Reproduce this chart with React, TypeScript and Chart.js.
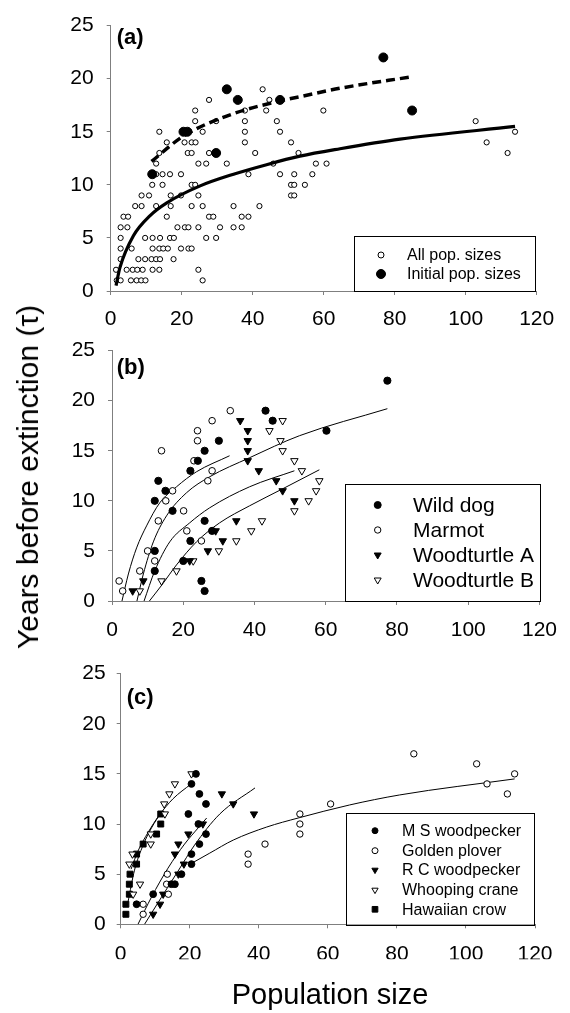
import React, { useEffect, useRef } from 'react';
import { Chart, registerables } from 'chart.js';
Chart.register(...registerables);

const FONT = '"Liberation Sans", Arial, Helvetica, sans-serif';
const AXIS = '#7f7f7f';

const X_TICKS = [0, 20, 40, 60, 80, 100, 120];
const Y_TICKS = [0, 5, 10, 15, 20, 25];

// ---------- Panel (a) ----------
const aAllX = [
  1.7, 2.8, 5.7, 7.3, 8.6, 9.8, 25.9,
  1.5, 4.5, 6.2, 7.5, 9.0, 11.8, 13.7, 24.7,
  2.8, 7.8, 9.7, 11.5, 12.8, 13.9, 17.7,
  2.8, 5.9, 11.8, 13.7, 14.8, 16.1, 19.8, 21.9, 22.8,
  2.8, 9.7, 11.8, 13.9, 16.7, 17.8, 26.9, 29.7,
  2.8, 4.7, 18.8, 20.9, 21.9, 24.7, 30.8, 34.6, 36.9,
  3.6, 4.9, 15.8, 27.7, 28.9, 36.9, 38.8,
  6.9, 8.7, 12.8, 16.9, 22.8, 25.9, 34.6, 41.9,
  8.7, 10.8, 16.9, 19.8, 24.7, 50.8, 51.7,
  11.7, 14.6, 22.8, 23.8, 50.8, 51.7, 54.7,
  12.8, 14.6, 16.7, 19.8, 38.8, 47.7, 51.7, 56.8,
  12.8, 24.7, 26.9, 32.7, 45.8, 57.8, 60.8,
  13.7, 21.7, 22.8, 27.7, 40.7, 52.9, 111.8,
  15.8, 20.8, 22.8, 23.9, 37.8, 50.8, 105.9,
  13.7, 25.9, 37.8, 47.7, 113.9,
  23.8, 29.7, 37.8, 46.8, 102.8,
  23.8, 37.8, 43.8, 59.9,
  27.7, 44.7,
  42.8,
];
const aAllY = [
  1, 1, 1, 1, 1, 1, 1,
  2, 2, 2, 2, 2, 2, 2, 2,
  3, 3, 3, 3, 3, 3, 3,
  4, 4, 4, 4, 4, 4, 4, 4, 4,
  5, 5, 5, 5, 5, 5, 5, 5,
  6, 6, 6, 6, 6, 6, 6, 6, 6,
  7, 7, 7, 7, 7, 7, 7,
  8, 8, 8, 8, 8, 8, 8, 8,
  9, 9, 9, 9, 9, 9, 9,
  10, 10, 10, 10, 10, 10, 10,
  11, 11, 11, 11, 11, 11, 11, 11,
  12, 12, 12, 12, 12, 12, 12,
  13, 13, 13, 13, 13, 13, 13,
  14, 14, 14, 14, 14, 14, 14,
  15, 15, 15, 15, 15,
  16, 16, 16, 16, 16,
  17, 17, 17, 17,
  18, 18,
  19,
];
const aInitX = [11.7, 20.5, 21.6, 29.7, 32.7, 35.8, 47.7, 76.8, 84.9];
const aInitY = [11, 15, 15, 13, 19, 18, 18, 22, 17];
const aAllFitX = [1.5, 2.6, 6.4, 11.1, 15.8, 25.2, 34.6, 43.9, 53.3, 64.6, 81.5, 113.9];
const aAllFitY = [0.5, 2.2, 5.2, 7.1, 8.3, 9.9, 11.0, 11.9, 12.7, 13.4, 14.3, 15.5];
const aInitFitX = [11.5, 20.5, 34.5, 47.7, 53.3, 64.6, 85.2];
const aInitFitY = [12.2, 14.6, 16.7, 17.9, 18.3, 19.1, 20.2];

// ---------- Panel (b) ----------
const bDogX = [26.0, 25.1, 12.0, 20.0, 12.0, 22.0, 28.1, 26.0, 17.0, 12.0, 15.0, 13.0, 22.0, 24.1, 26.0, 30.0, 60.2, 45.1, 43.1, 77.3];
const bDogY = [1, 2, 3, 4, 5, 6, 7, 8, 9, 10, 11, 12, 13, 14, 15, 16, 17, 18, 19, 22];
const bMarmotX = [3.0, 2.0, 7.8, 12.0, 10.0, 25.1, 21.0, 13.0, 20.1, 15.1, 17.0, 26.9, 28.1, 23.0, 13.9, 24.0, 24.0, 28.1, 33.2];
const bMarmotY = [1, 2, 3, 4, 5, 6, 7, 8, 9, 10, 11, 12, 13, 14, 15, 16, 17, 18, 19];
const bTurtleAX = [5.8, 8.8, 21.8, 26.9, 31.1, 29.1, 34.9, 51.2, 47.9, 46.1, 41.2, 38.1, 38.1, 38.1, 38.1, 36.0];
const bTurtleAY = [1, 2, 4, 5, 6, 7, 8, 10, 11, 12, 13, 14, 15, 16, 17, 18];
const bTurtleBX = [7.8, 13.9, 18.1, 22.8, 30.0, 34.9, 39.1, 42.1, 51.2, 55.2, 57.3, 58.2, 53.3, 51.2, 47.9, 47.3, 44.2, 47.9];
const bTurtleBY = [1, 2, 3, 4, 5, 6, 7, 8, 9, 10, 11, 12, 13, 14, 15, 16, 17, 18];
const bMarmotFitX = [2.8, 4.6, 6.9, 9.7, 13.4, 18.1, 23.7, 33.0];
const bMarmotFitY = [0, 2.7, 5.3, 7.5, 9.8, 11.4, 12.9, 14.5];
const bDogFitX = [7.0, 8.8, 11.6, 15.3, 20.9, 27.4, 38.6, 52.6, 77.3];
const bDogFitY = [0, 2.7, 5.9, 8.5, 10.8, 12.4, 14.3, 16.5, 19.2];
const bTurtleAFitX = [9.0, 12.0, 16.2, 21.8, 27.4, 38.6, 51.2];
const bTurtleAFitY = [0, 3.0, 5.9, 7.8, 9.3, 11.4, 13.0];
const bTurtleBFitX = [10.5, 14.0, 18.1, 23.7, 30.2, 38.6, 47.9, 58.2];
const bTurtleBFitY = [0, 1.6, 3.6, 5.9, 7.8, 9.5, 11.2, 13.1];

// ---------- Panel (c) ----------
const cMswX = [4.6, 9.4, 14.7, 15.7, 17.6, 20.5, 20.5, 22.8, 24.7, 22.5, 19.6, 24.7, 22.8, 20.5, 21.8];
const cMswY = [2, 3, 4, 4, 5, 6, 7, 8, 9, 10, 11, 12, 13, 14, 15];
const cPloverX = [6.5, 6.5, 13.8, 13.3, 13.5, 36.9, 36.9, 41.8, 51.9, 51.9, 51.9, 60.8, 84.9, 103.1, 106.1, 112.0, 114.1];
const cPloverY = [1, 2, 3, 4, 5, 6, 7, 8, 9, 10, 11, 12, 17, 16, 14, 13, 15];
const cRcwX = [9.4, 11.4, 12.3, 16.7, 18.3, 15.7, 16.7, 19.6, 23.8, 38.6, 32.6, 29.3];
const cRcwY = [1, 2, 3, 5, 6, 7, 8, 9, 10, 11, 12, 13];
const cCraneX = [3.6, 5.6, 2.5, 3.4, 8.7, 8.7, 12.8, 12.6, 14.1, 15.7, 20.5];
const cCraneY = [3, 4, 6, 7, 8, 9, 11, 12, 13, 14, 15];
const cCrowX = [1.5, 1.5, 2.5, 2.5, 2.7, 4.6, 4.6, 6.5, 10.4, 11.6, 11.6];
const cCrowY = [1, 2, 3, 4, 5, 6, 7, 8, 9, 10, 11];
const cMswFitX = [5.0, 8.9, 13.7, 18.5, 22.4, 24.9];
const cMswFitY = [0, 2.7, 5.6, 8.0, 9.6, 10.6];
const cPloverFitX = [19.6, 25.8, 32.6, 42.3, 51.4, 66.3, 80.8, 114.1];
const cPloverFitY = [5.9, 7.1, 8.4, 9.7, 10.6, 11.9, 12.9, 14.5];
const cRcwFitX = [6.9, 11.8, 16.6, 21.4, 28.7, 38.9];
const cRcwFitY = [0, 2.7, 5.3, 7.9, 11.0, 13.6];
const cCraneFitX = [3.0, 5.0, 8.0, 11.0, 15.1, 20.4];
const cCraneFitY = [5.5, 7.3, 9.2, 10.8, 12.5, 14.0];
const cCrowFitX = [2.1, 4.0, 6.5, 8.9, 11.8];
const cCrowFitY = [2.2, 5.4, 7.9, 9.6, 11.2];

type Kind = 'circle' | 'triDown' | 'rect';

const pts = (xs: number[], ys: number[]) => xs.map((x, i) => ({ x, y: ys[i] }));

function pointSet(label: string, xs: number[], ys: number[], kind: Kind, filled: boolean, r: number) {
  return {
    label,
    data: pts(xs, ys),
    showLine: false,
    pointStyle: kind === 'circle' ? 'circle' : kind === 'rect' ? 'rect' : 'triangle',
    pointRotation: kind === 'triDown' ? 180 : 0,
    pointRadius: r,
    pointHoverRadius: r,
    pointBorderWidth: 1,
    pointBorderColor: '#000',
    pointBackgroundColor: filled ? '#000' : '#fff',
  };
}

function lineSet(xs: number[], ys: number[], width: number, dash: number[] = []) {
  return {
    label: '',
    data: pts(xs, ys),
    showLine: true,
    pointRadius: 0,
    pointHoverRadius: 0,
    borderColor: '#000',
    borderWidth: width,
    borderDash: dash,
    borderCapStyle: 'butt',
    cubicInterpolationMode: 'monotone',
    fill: false,
  };
}

function drawMarker(ctx: CanvasRenderingContext2D, kind: Kind, x: number, y: number, r: number, filled: boolean) {
  ctx.save();
  ctx.beginPath();
  if (kind === 'circle') ctx.arc(x, y, r, 0, Math.PI * 2);
  else if (kind === 'triDown') {
    ctx.moveTo(x, y + r);
    ctx.lineTo(x - r * 0.866, y - r * 0.5);
    ctx.lineTo(x + r * 0.866, y - r * 0.5);
    ctx.closePath();
  } else {
    const s = r * 0.7071;
    ctx.rect(x - s, y - s, 2 * s, 2 * s);
  }
  ctx.fillStyle = filled ? '#000' : '#fff';
  ctx.fill();
  ctx.lineWidth = 1;
  ctx.strokeStyle = '#000';
  ctx.stroke();
  ctx.restore();
}

type LegendItem = { text: string; kind: Kind; filled: boolean; r: number };
type Deco = {
  label: string; labelX: number; labelY: number;
  box: { l: number; t: number; r: number; b: number };
  markerX: number; textX: number; textSize: number; rows: number[]; items: LegendItem[];
};

type Spec = {
  id: string; top: number; height: number;
  area: { l: number; r: number; t: number; b: number };
  yPad: number; xPad: number;
  datasets: any[];
  deco: Deco;
};

const Y_AXIS_W = 60;
const X_AXIS_H = 35;

function makeDeco(d: Deco, off: number) {
  return {
    id: 'deco',
    afterDatasetsDraw(chart: any) {
      const ctx: CanvasRenderingContext2D = chart.ctx;
      ctx.save();
      ctx.fillStyle = '#000';
      ctx.font = `bold 22px ${FONT}`;
      ctx.textAlign = 'left';
      ctx.textBaseline = 'alphabetic';
      ctx.fillText(d.label, d.labelX, d.labelY - off);
      const b = d.box;
      ctx.fillStyle = '#fff';
      ctx.fillRect(b.l, b.t - off, b.r - b.l, b.b - b.t);
      ctx.strokeStyle = '#000';
      ctx.lineWidth = 1;
      ctx.strokeRect(Math.round(b.l) + 0.5, Math.round(b.t - off) + 0.5, Math.round(b.r - b.l) - 1, Math.round(b.b - b.t));
      ctx.font = `${d.textSize}px ${FONT}`;
      ctx.textBaseline = 'middle';
      d.items.forEach((it, i) => {
        const y = d.rows[i] - off;
        drawMarker(ctx, it.kind, d.markerX, y, it.r, it.filled);
        ctx.fillStyle = '#000';
        ctx.fillText(it.text, d.textX, y + 1);
      });
      ctx.restore();
    },
  };
}

function buildConfig(s: Spec): any {
  const a = s.area;
  return {
    type: 'scatter',
    data: { datasets: s.datasets },
    options: {
      animation: false,
      responsive: false,
      maintainAspectRatio: false,
      events: [],
      layout: {
        padding: {
          left: a.l - Y_AXIS_W,
          right: 570 - a.r,
          top: a.t,
          bottom: s.height - a.b - X_AXIS_H,
        },
      },
      plugins: { legend: { display: false }, tooltip: { enabled: false } },
      scales: {
        x: {
          type: 'linear', min: 0, max: 120, offset: false,
          afterBuildTicks: (sc: any) => { sc.ticks = X_TICKS.map((v) => ({ value: v })); },
          afterFit: (sc: any) => { sc.height = X_AXIS_H; },
          grid: { display: true, drawOnChartArea: false, drawTicks: true, tickLength: 4, color: AXIS, lineWidth: 1 },
          border: { display: true, color: AXIS, width: 1 },
          ticks: { font: { family: FONT, size: 21 }, color: '#000', padding: s.xPad, maxRotation: 0, autoSkip: false },
        },
        y: {
          type: 'linear', min: 0, max: 25,
          afterBuildTicks: (sc: any) => { sc.ticks = Y_TICKS.map((v) => ({ value: v })); },
          afterFit: (sc: any) => { sc.width = Y_AXIS_W; },
          grid: { display: true, drawOnChartArea: false, drawTicks: true, tickLength: 4, color: AXIS, lineWidth: 1 },
          border: { display: true, color: AXIS, width: 1 },
          ticks: { font: { family: FONT, size: 21 }, color: '#000', padding: s.yPad, autoSkip: false },
        },
      },
    },
    plugins: [makeDeco(s.deco, s.top)],
  };
}

const SPECS: Spec[] = [
  {
    id: 'a', top: 0, height: 330,
    area: { l: 110.7, r: 536.7, t: 16, b: 291 },
    yPad: 13, xPad: 12,
    datasets: [
      pointSet('Initial pop. sizes', aInitX, aInitY, 'circle', true, 4.5),
      lineSet(aInitFitX, aInitFitY, 3.5, [9, 5]),
      lineSet(aAllFitX, aAllFitY, 3.2),
      pointSet('All pop. sizes', aAllX, aAllY, 'circle', false, 2.6),
    ],
    deco: {
      label: '(a)', labelX: 116.7, labelY: 44,
      box: { l: 354.3, t: 236, r: 536.7, b: 291 },
      markerX: 381, textX: 407, textSize: 16, rows: [255, 274],
      items: [
        { text: 'All pop. sizes', kind: 'circle', filled: false, r: 3 },
        { text: 'Initial pop. sizes', kind: 'circle', filled: true, r: 4.5 },
      ],
    },
  },
  {
    id: 'b', top: 325, height: 330,
    area: { l: 112, r: 541, t: 18, b: 276 },
    yPad: 13, xPad: 13,
    datasets: [
      pointSet('Wild dog', bDogX, bDogY, 'circle', true, 3.6),
      pointSet('Marmot', bMarmotX, bMarmotY, 'circle', false, 3.3),
      pointSet('Woodturtle A', bTurtleAX, bTurtleAY, 'triDown', true, 4.3),
      pointSet('Woodturtle B', bTurtleBX, bTurtleBY, 'triDown', false, 4.3),
      lineSet(bMarmotFitX, bMarmotFitY, 1),
      lineSet(bDogFitX, bDogFitY, 1),
      lineSet(bTurtleAFitX, bTurtleAFitY, 1),
      lineSet(bTurtleBFitX, bTurtleBFitY, 1),
    ],
    deco: {
      label: '(b)', labelX: 116.7, labelY: 374,
      box: { l: 345, t: 484.3, r: 541, b: 601 },
      markerX: 377.7, textX: 413, textSize: 21, rows: [505, 530, 555, 580],
      items: [
        { text: 'Wild dog', kind: 'circle', filled: true, r: 3.5 },
        { text: 'Marmot', kind: 'circle', filled: false, r: 3.2 },
        { text: 'Woodturtle A', kind: 'triDown', filled: true, r: 4 },
        { text: 'Woodturtle B', kind: 'triDown', filled: false, r: 4 },
      ],
    },
  },
  {
    id: 'c', top: 650, height: 330,
    area: { l: 120.7, r: 535, t: 16, b: 274.3 },
    yPad: 11, xPad: 13,
    datasets: [
      pointSet('M S woodpecker', cMswX, cMswY, 'circle', true, 3.4),
      pointSet('Golden plover', cPloverX, cPloverY, 'circle', false, 3.2),
      pointSet('R C woodpecker', cRcwX, cRcwY, 'triDown', true, 4.2),
      pointSet('Whooping crane', cCraneX, cCraneY, 'triDown', false, 4.2),
      pointSet('Hawaiian crow', cCrowX, cCrowY, 'rect', true, 4.2),
      lineSet(cMswFitX, cMswFitY, 1),
      lineSet(cPloverFitX, cPloverFitY, 1),
      lineSet(cRcwFitX, cRcwFitY, 1),
      lineSet(cCraneFitX, cCraneFitY, 1),
      lineSet(cCrowFitX, cCrowFitY, 1),
    ],
    deco: {
      label: '(c)', labelX: 126.7, labelY: 704,
      box: { l: 346, t: 812.7, r: 535, b: 924.3 },
      markerX: 375, textX: 402, textSize: 16, rows: [830.7, 850.7, 870, 890, 909.3],
      items: [
        { text: 'M S woodpecker', kind: 'circle', filled: true, r: 3 },
        { text: 'Golden plover', kind: 'circle', filled: false, r: 3 },
        { text: 'R C woodpecker', kind: 'triDown', filled: true, r: 3.6 },
        { text: 'Whooping crane', kind: 'triDown', filled: false, r: 3.6 },
        { text: 'Hawaiian crow', kind: 'rect', filled: true, r: 4 },
      ],
    },
  },
];

function Panel({ spec }: { spec: Spec }) {
  const ref = useRef<HTMLCanvasElement>(null);
  useEffect(() => {
    if (!ref.current) return;
    const chart = new Chart(ref.current, buildConfig(spec));
    return () => chart.destroy();
  }, [spec]);
  return (
    <canvas
      ref={ref}
      width={570}
      height={spec.height}
      style={{ position: 'absolute', left: 0, top: spec.top, width: 570, height: spec.height }}
    />
  );
}

export default function App() {
  return (
    <div style={{ position: 'absolute', left: 0, top: 0, width: 570, height: 1013, background: '#fff', fontFamily: FONT, color: '#000', overflow: 'hidden' }}>
      {SPECS.map((s) => <Panel key={s.id} spec={s} />)}
      <div
        style={{
          position: 'absolute', left: 28, top: 477, fontSize: 30, lineHeight: '30px', whiteSpace: 'nowrap',
          transform: 'translate(-50%, -50%) rotate(-90deg)',
        }}
      >
        Years before extinction (τ)
      </div>
      <div
        style={{
          position: 'absolute', left: 330, top: 980, fontSize: 29, lineHeight: '29px', whiteSpace: 'nowrap',
          transform: 'translateX(-50%)',
        }}
      >
        Population size
      </div>
    </div>
  );
}
